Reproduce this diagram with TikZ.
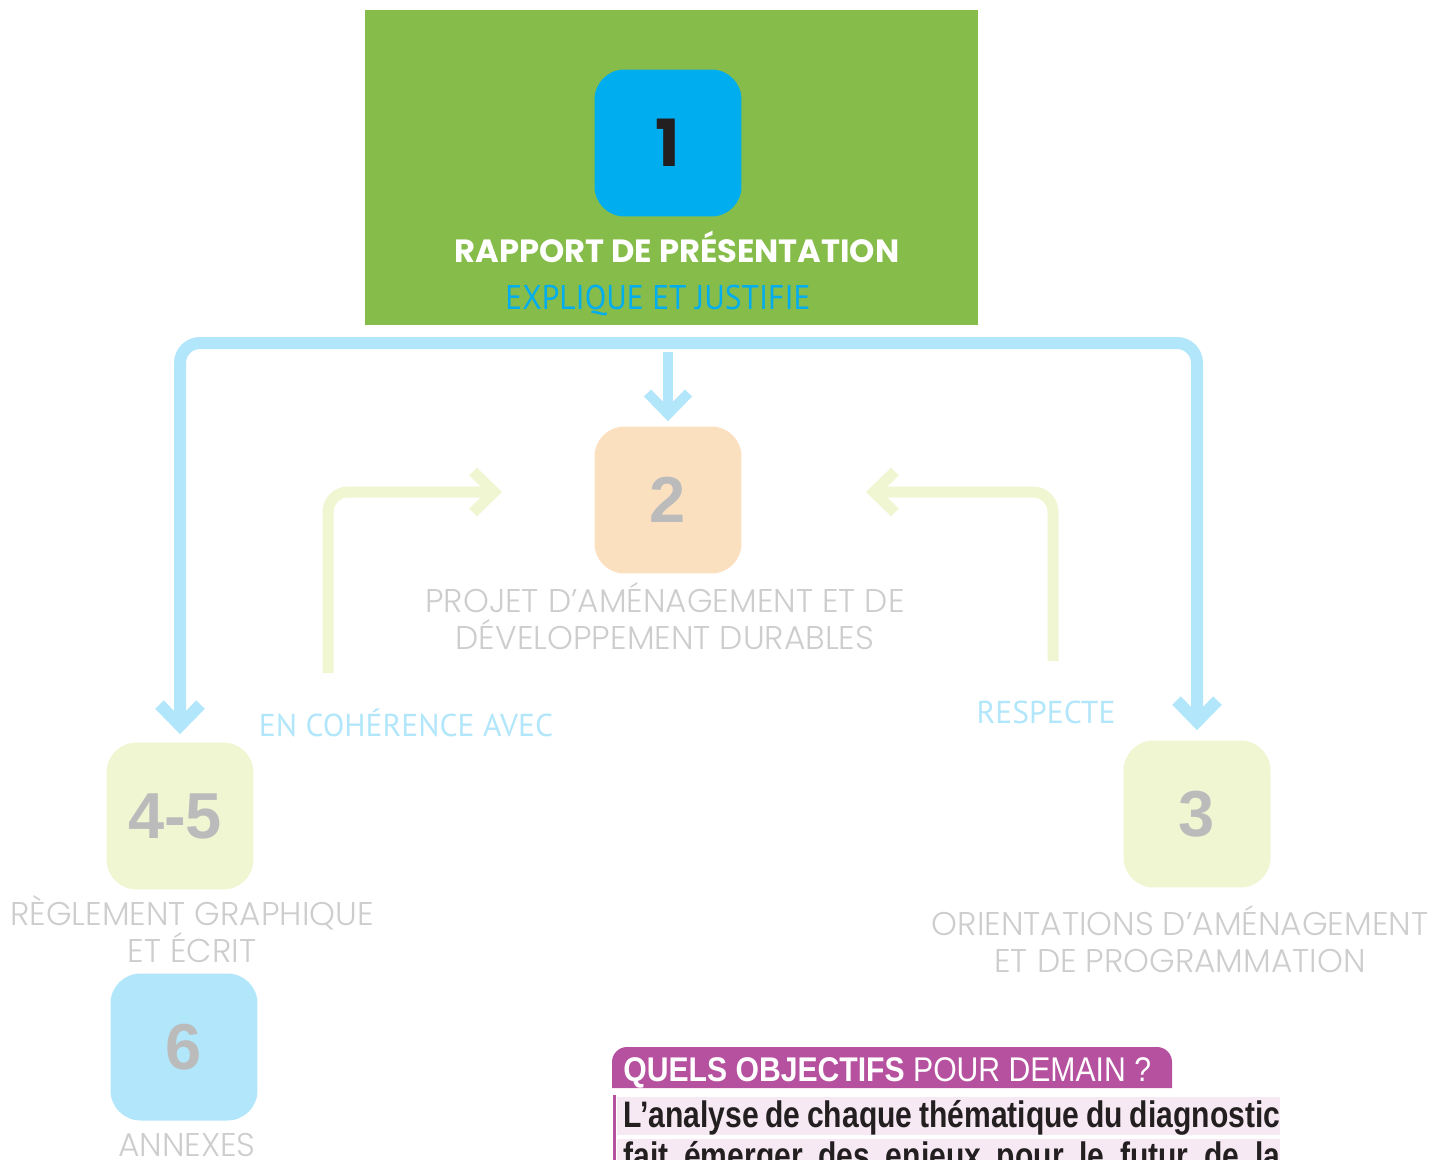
\documentclass[tikz,border=0pt]{standalone}
\usepackage{fontspec}
\setmainfont{Poppins}
\newfontfamily\thinfont{Poppins Light}
\newfontfamily\numfont{Liberation Sans}
\newfontfamily\myriad{PT Sans}
\newfontfamily\myriadc{PT Sans}[FakeStretch=0.92]
\newfontfamily\tabfont{Liberation Sans}[FakeStretch=0.88]
\newfontfamily\condfont{Liberation Sans}[FakeStretch=0.815]
\usetikzlibrary{arrows.meta}

\definecolor{plugreen}{RGB}{134,188,74}
\definecolor{pluCyan}{RGB}{0,174,239}
\definecolor{busblue}{RGB}{178,230,250}
\definecolor{peach}{RGB}{251,224,192}
\definecolor{paleyel}{RGB}{240,245,210}
\definecolor{numgray}{RGB}{187,187,187}
\definecolor{thingray}{RGB}{205,205,205}
\definecolor{plumag}{RGB}{181,81,158}
\definecolor{plupink}{RGB}{247,233,243}
\definecolor{dark}{RGB}{35,31,32}

\tikzset{
  numbox/.style={rounded corners=0.6cm, minimum width=2.94cm, minimum height=2.94cm,
    inner sep=0pt, text=numgray, font=\numfont\bfseries\fontsize{37}{37}\selectfont},
  docname/.style={align=center, text=thingray, inner sep=0pt,
    font=\thinfont\fontsize{18.7}{21}\selectfont},
  linklabel/.style={text=busblue, inner sep=0pt, font=\myriad\fontsize{18}{18}\selectfont},
  bus/.style={line width=0.24cm, color=busblue, rounded corners=0.4cm},
  backlink/.style={line width=0.22cm, color=paleyel, rounded corners=0.4cm},
  barb/.tip={Straight Barb[length=0.42cm, width=0.82cm]},
}

\begin{document}
\begin{tikzpicture}[x=0.02cm, y=-0.02cm]
\useasboundingbox (0,0) rectangle (1429,1159);
\clip (0,0) rectangle (1429,1159);

% rapport de presentation
\fill[plugreen] (365,10) rectangle (978,325);
\node[numbox, fill=pluCyan, text=dark, font=\bfseries\fontsize{37}{37}\selectfont] (b1) at (668,143) {1};
\node[text=white, inner sep=0pt, font=\bfseries\fontsize{18.3}{18.3}\selectfont] (t1) at (677,247) {RAPPORT DE PRÉSENTATION};
\node[text=pluCyan, inner sep=0pt, font=\myriadc\fontsize{19.5}{19.5}\selectfont] (t1b) at (658,300) {EXPLIQUE ET JUSTIFIE};

% pieces du PLU
\node[numbox, fill=peach] (b2) at (668,500) {2};
\node[docname] (t2) at (665,616) {PROJET D’AMÉNAGEMENT ET DE\\DÉVELOPPEMENT DURABLES};

\node[numbox, fill=paleyel] (b45) at (180,816) {\hspace*{-0.2cm}4-5};
\node[docname] (t45) at (192,929) {RÈGLEMENT GRAPHIQUE\\ET ÉCRIT};

\node[numbox, fill=busblue] (b6) at (184,1047) {6};
\node[docname] (t6) at (187,1145) {ANNEXES};

\node[numbox, fill=paleyel] (b3) at (1197,814) {3};
\node[docname] (t3) at (1180,939) {ORIENTATIONS D’AMÉNAGEMENT\\ET DE PROGRAMMATION};

% liens
\coordinate (busL) at (180,343);
\coordinate (busM) at (668,352);
\draw[bus, barb-barb] ([yshift=0.16cm]b45.north) -- (b45.north |- busL) -| ([yshift=0.2cm]b3.north);
\draw[bus, line width=0.2cm, -barb] (busM) -- ([yshift=0.1cm]b2.north);

\coordinate (cohA) at (328,673);
\coordinate (cohB) at (502,492);
\coordinate (resA) at (1053,661);
\coordinate (resB) at (866,492);
\draw[backlink, -barb] (cohA) |- (cohB);
\draw[backlink, -barb] (resA) |- (resB);

\node[linklabel] (lcoh) at (406,723) {EN COHÉRENCE AVEC};
\node[linklabel] (lres) at (1046,712) {RESPECTE};

% objectifs
\fill[plumag, rounded corners=0.3cm] (612,1088) -- (612,1047) -- (1172,1047) -- (1172,1088);
\node[anchor=base west, inner sep=0pt, text=white, font=\tabfont\fontsize{19.5}{19.5}\selectfont]
  (obj) at (623,1081) {\textbf{QUELS OBJECTIFS} POUR DEMAIN ?};
\fill[plupink] (617,1097) rectangle (1280,1135);
\fill[plupink] (617,1139) rectangle (1280,1180);
\draw[plumag, line width=0.06cm] (614,1095) -- (614,1170);
\node[anchor=base west, inner sep=0pt, text=dark, font=\condfont\bfseries\fontsize{21}{21}\selectfont]
  (txt1) at (623,1127) {\makebox[13.14cm][s]{L’analyse de chaque thématique du diagnostic}};
\node[anchor=base west, inner sep=0pt, text=dark, font=\condfont\bfseries\fontsize{21}{21}\selectfont]
  (txt2) at (623,1168) {\makebox[13.14cm][s]{fait émerger des enjeux pour le futur de la}};
\end{tikzpicture}
\end{document}
